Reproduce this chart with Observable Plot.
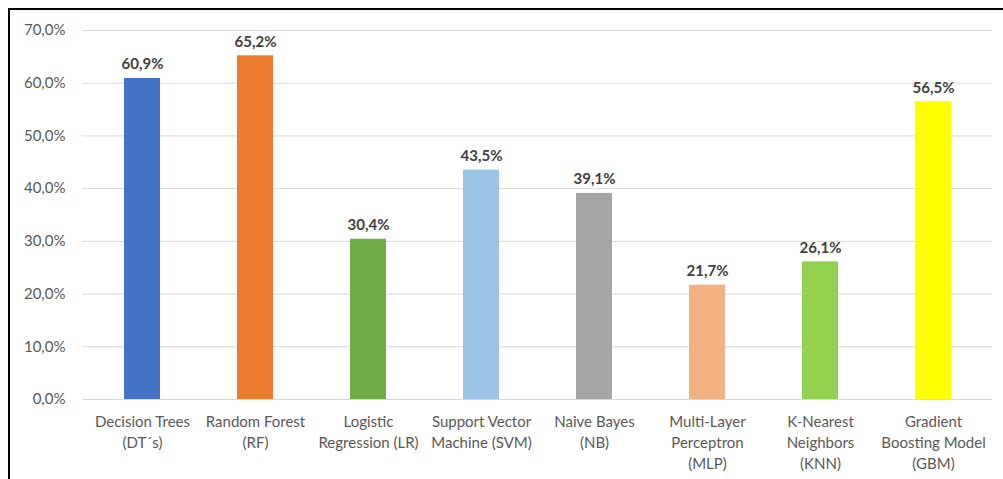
<!DOCTYPE html>
<html>
<head>
<meta charset="utf-8">
<script src="https://cdn.jsdelivr.net/npm/d3@7"></script>
<script src="https://cdn.jsdelivr.net/npm/@observablehq/plot@0.6"></script>
<style>
  html, body { margin: 0; padding: 0; background: #fff; }
  #wrap { position: relative; width: 1003px; height: 479px; overflow: hidden; }
  #frame { position: absolute; left: 8px; top: 8px; width: 995px; height: 471px;
           border-left: 2px solid #000; border-top: 2px solid #000; box-sizing: border-box; pointer-events: none; }
  svg { display: block; }
</style>
</head>
<body>
<div id="wrap"><div id="frame"></div></div>
<script>
const categories = ["DT", "RF", "LR", "SVM", "NB", "MLP", "KNN", "GBM"];
const categoryLabels = [
  "Decision Trees\n(DT´s)",
  "Random Forest\n(RF)",
  "Logistic\nRegression (LR)",
  "Support Vector\nMachine (SVM)",
  "Naive Bayes\n(NB)",
  "Multi-Layer\nPerceptron\n(MLP)",
  "K-Nearest\nNeighbors\n(KNN)",
  "Gradient\nBoosting Model\n(GBM)"
];
const accuracy = [60.9, 65.2, 30.4, 43.5, 39.1, 21.7, 26.1, 56.5];
const yTicks = [0, 10, 20, 30, 40, 50, 60, 70];
const palette = ["#4472C4", "#ED7D31", "#70AD47", "#9DC3E6", "#A5A5A5", "#F4B183", "#92D050", "#FFFF00"];

const data = categories.map((c, i) => ({cat: c, label: categoryLabels[i], value: accuracy[i]}));
const labelOf = Object.fromEntries(categories.map((c, i) => [c, categoryLabels[i]]));
const pct = v => v.toFixed(1).replace(".", ",") + "%";

const chart = Plot.plot({
  width: 1003,
  height: 479,
  marginLeft: 82,
  marginRight: 11,
  marginTop: 30,
  marginBottom: 80,
  style: {fontFamily: "Lato, 'Open Sans', sans-serif", background: "transparent"},
  x: {domain: categories, paddingInner: 0.684, paddingOuter: 0.342},
  y: {domain: [0, 70]},
  color: {domain: categories, range: palette},
  marks: [
    Plot.ruleY(yTicks, {stroke: "#d9d9d9", strokeWidth: 1}),
    Plot.barY(data, {x: "cat", y: "value", fill: "cat"}),
    Plot.text(data, {x: "cat", y: "value", text: d => pct(d.value), dy: -9, lineAnchor: "bottom",
      fill: "#404040", fontWeight: "bold", fontSize: 15}),
    Plot.axisY({ticks: yTicks, tickSize: 0, tickPadding: 17, tickFormat: pct, fontSize: 15, color: "#595959", label: null}),
    Plot.axisX({tickSize: 0, tickPadding: 13, tickFormat: c => labelOf[c], fontSize: 15, lineHeight: 1.4, color: "#595959", label: null})
  ]
});
document.getElementById("wrap").prepend(chart);
</script>
</body>
</html>
